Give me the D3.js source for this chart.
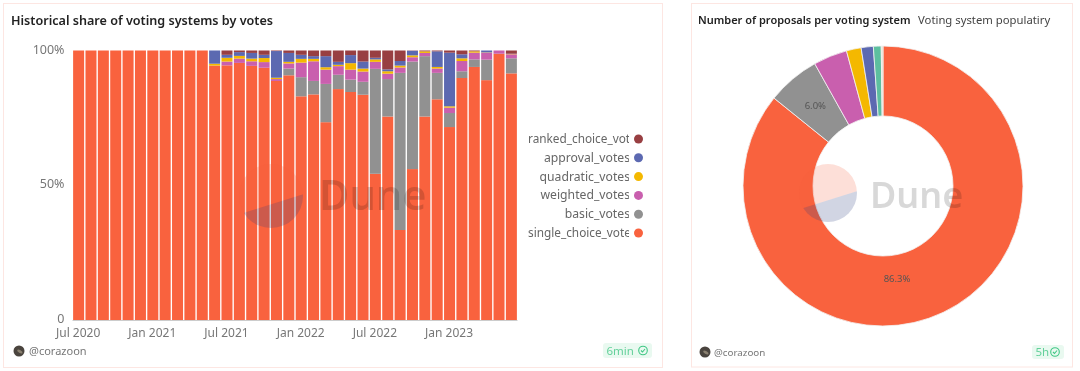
<!DOCTYPE html>
<html>
<head>
<meta charset="utf-8">
<script src="https://cdn.jsdelivr.net/npm/d3@7"></script>
<style>
  html, body { margin: 0; padding: 0; background: #fff; }
  svg { display: block; font-family: "Noto Sans", sans-serif; filter: blur(0.3px); }
</style>
</head>
<body>
<div id="chart"></div>
<script>
var months = [];
d3.timeMonths(new Date(2020, 6, 1), new Date(2023, 6, 1)).forEach(function(m) { months.push(m); });

var seriesNames = ["single_choice_votes", "basic_votes", "weighted_votes", "quadratic_votes", "approval_votes", "ranked_choice_votes"];
var seriesColors = ["#f9623e", "#919191", "#c95fae", "#f4b800", "#5c69b1", "#983f42"];

// percent of votes per month, Jul 2020 .. Jun 2023
var single_choice = [100,100,100,100,100,100,100,100,100,100,100,94.4,94.5,95.4,94.3,93.6,88.7,90.8,83.0,83.8,73.4,85.6,84.6,83.5,54.2,75.5,33.4,56.0,75.5,81.9,71.6,89.8,93.9,89.0,98.8,91.7];
var basic =         [0,0,0,0,0,0,0,0,0,0,0,0,0,0,0,0,0,2.5,7.1,5.0,14.2,5.3,4.6,4.8,38.9,13.9,58.3,39.9,22.4,9.8,5.2,2.5,2.8,7.6,0,5.6];
var weighted =      [0,0,0,0,0,0,0,0,0,0,0,0,1.4,1.6,1.7,2.1,0.7,1.9,5.4,7.3,5.3,3.2,3.7,3.8,2.6,2.0,2.0,1.6,1.2,1.6,2.0,3.8,2.5,2.6,1.2,1.5];
var quadratic =     [0,0,0,0,0,0,0,0,0,0,0,0.7,1.4,1.0,1.0,1.5,0.5,0.6,1.4,0.9,0.9,0.5,2.4,1.1,0.9,0.9,0.7,0.7,0.6,0.6,0.5,1.0,0.5,0.1,0,0.1];
var approval =      [0,0,0,0,0,0,0,0,0,0,0,4.9,1.1,1.4,2.1,1.2,9.9,3.3,1.5,1.0,4.1,1.1,3.0,2.6,0.6,0.7,1.7,1.7,0,5.8,19.9,1.5,0,0.7,0,0.1];
var ranked_choice = [0,0,0,0,0,0,0,0,0,0,0,0,1.6,0.6,0.9,1.6,0.2,0.9,1.6,2.1,2.1,4.2,1.7,4.1,2.7,7.0,3.9,0.1,0.3,0.3,0.8,1.4,0.3,0,0,1.2];

var yTicks = [0, 0.5, 1];
var xTickLabels = ["Jul 2020", "Jan 2021", "Jul 2021", "Jan 2022", "Jul 2022", "Jan 2023"];

var pieNames = ["single_choice", "basic", "weighted", "quadratic", "approval", "other", "ranked_choice"];
var pieValues = [85.8, 6.1, 3.9, 1.7, 1.4, 0.9, 0.2];
var pieLabels = ["86.3%", "6.0%", "", "", "", "", ""];
var pieColors = ["#f9623e", "#919191", "#c95fae", "#f4b800", "#5c69b1", "#5dbf9f", "#e8dcc8"];

var svg = d3.select("#chart").append("svg").attr("width", 1080).attr("height", 371);

// cards
svg.append("rect").attr("x", 3.5).attr("y", 3.5).attr("width", 659).attr("height", 364)
  .attr("fill", "#fff").attr("stroke", "#fde6e2");
svg.append("rect").attr("x", 691.5).attr("y", 3.5).attr("width", 381).attr("height", 363.5)
  .attr("fill", "#fff").attr("stroke", "#fde6e2");

svg.append("text").attr("x", 11).attr("y", 25).attr("font-size", 12.6).attr("font-weight", 600)
  .attr("fill", "#222").text("Historical share of voting systems by votes");
svg.append("text").attr("x", 698).attr("y", 24).attr("font-size", 11).attr("font-weight", 600)
  .attr("fill", "#222").text("Number of proposals per voting system");
svg.append("text").attr("x", 918).attr("y", 24).attr("font-size", 11.3)
  .attr("fill", "#444").text("Voting system populatiry");

// stacked bars
var x = d3.scaleBand().domain(months).range([72.5, 517.5]).paddingInner(0.11).paddingOuter(0.05);
var y = d3.scaleLinear().domain([0, 1]).range([320, 50.5]);

var table = months.map(function(m, i) {
  return {
    month: m,
    single_choice_votes: single_choice[i],
    basic_votes: basic[i],
    weighted_votes: weighted[i],
    quadratic_votes: quadratic[i],
    approval_votes: approval[i],
    ranked_choice_votes: ranked_choice[i]
  };
});
var stacked = d3.stack().keys(seriesNames).offset(d3.stackOffsetExpand)(table);

var g = svg.append("g");
g.selectAll(".layer")
  .data(stacked)
  .enter().append("g")
    .attr("class", "layer")
    .attr("fill", function(d, i) { return seriesColors[i]; })
  .selectAll("rect")
  .data(function(d) { return d; })
  .enter().append("rect")
    .attr("x", function(d) { return x(d.data.month); })
    .attr("y", function(d) { return y(d[1]); })
    .attr("width", x.bandwidth())
    .attr("height", function(d) { return Math.max(0, y(d[0]) - y(d[1])); });

// axes
var fmtMonth = d3.timeFormat("%b %Y");
var xAxis = d3.axisBottom(x)
  .tickValues(months.filter(function(m) { return xTickLabels.indexOf(fmtMonth(m)) >= 0; }))
  .tickFormat(fmtMonth).tickSize(0).tickPadding(8);
var xg = svg.append("g").attr("transform", "translate(-0.5,320)").call(xAxis);
xg.select(".domain").attr("stroke", "#ccc");
xg.selectAll("text").attr("font-family", "Noto Sans").attr("font-size", 12).attr("fill", "#777");

var yAxis = d3.axisLeft(y).tickValues(yTicks).tickSize(0).tickPadding(8)
  .tickFormat(function(d) { return d === 0 ? "0" : d3.format(".0%")(d); });
var yg = svg.append("g").attr("transform", "translate(72.5,-1.5)").call(yAxis);
yg.select(".domain").remove();
yg.selectAll("text").attr("font-family", "Noto Sans").attr("font-size", 12.5).attr("fill", "#777");

// legend, clipped text like the original
svg.append("clipPath").attr("id", "legend-clip").append("rect")
  .attr("x", 520).attr("y", 125).attr("width", 109).attr("height", 120);
var legendNames = seriesNames.slice().reverse();
var legendColors = seriesColors.slice().reverse();
var legendY = d3.scalePoint().domain(legendNames).range([139, 233]);
var legend = svg.append("g");
legend.append("g").attr("clip-path", "url(#legend-clip)").selectAll("text")
  .data(legendNames).enter().append("text")
    .attr("x", function(d) { return d.length > 16 ? 528 : 630; })
    .attr("text-anchor", function(d) { return d.length > 16 ? "start" : "end"; })
    .attr("y", function(d) { return legendY(d) + 4; })
    .attr("font-size", function(d) { return d.length > 16 ? 11.8 : 12.2; }).attr("fill", "#666")
    .text(function(d) { return d; });
legend.selectAll("circle")
  .data(legendNames).enter().append("circle")
    .attr("cx", 638.5).attr("cy", function(d) { return legendY(d); }).attr("r", 4.5)
    .attr("fill", function(d, i) { return legendColors[i]; });

// pie
var pie = d3.pie().sort(null);
var arc = d3.arc().innerRadius(70).outerRadius(140);
var pg = svg.append("g").attr("transform", "translate(883,186)");
pg.selectAll("path")
  .data(pie(pieValues))
  .enter().append("path")
    .attr("d", arc)
    .attr("fill", function(d, i) { return pieColors[i]; })
    .attr("stroke", "#f2f2f2").attr("stroke-width", 0.8);
pg.selectAll("text")
  .data(pie(pieValues).filter(function(d) { return pieLabels[d.index] !== ""; }))
  .enter().append("text")
    .attr("transform", function(d) {
      // the big slice label sits near the bottom in the original, not at the centroid
      if (d.index === 0) return "translate(14,93)";
      return "translate(" + arc.centroid(d) + ")";
    })
    .attr("text-anchor", "middle").attr("dy", "0.35em")
    .attr("font-size", 9.5).attr("fill", "#555")
    .text(function(d) { return pieLabels[d.index]; });

// Dune watermark
function watermark(cx, cy, r, off, tx, ty, fs) {
  var wm = svg.append("g").attr("transform", "translate(" + cx + "," + cy + ")");
  wm.append("clipPath").attr("id", "wm-top" + cx).append("rect")
    .attr("x", -r * 2).attr("y", -r * 2).attr("width", r * 4).attr("height", r * 2 + off)
    .attr("transform", "rotate(-17.5)");
  wm.append("clipPath").attr("id", "wm-bot" + cx).append("rect")
    .attr("x", -r * 2).attr("y", off).attr("width", r * 4).attr("height", r * 2)
    .attr("transform", "rotate(-17.5)");
  wm.append("circle").attr("r", r).attr("fill", "#f4603e").attr("opacity", 0.2)
    .attr("clip-path", "url(#wm-top" + cx + ")");
  wm.append("circle").attr("r", r).attr("fill", "#2c3e80").attr("opacity", 0.22)
    .attr("clip-path", "url(#wm-bot" + cx + ")");
  svg.append("text").attr("x", tx).attr("y", ty).attr("font-size", fs).attr("font-weight", 600)
    .attr("fill", "#000").attr("opacity", 0.15).text("Dune");
}
watermark(271, 196, 32, 8, 319, 210, 41.5);
watermark(828, 193, 29, 7, 870, 208, 36);

// footer
function footer(ax, ay, tx, ty, fs) {
  svg.append("circle").attr("cx", ax).attr("cy", ay).attr("r", 5.5).attr("fill", "#4a443e");
  svg.append("ellipse").attr("cx", ax + 1).attr("cy", ay).attr("rx", 3).attr("ry", 1.4)
    .attr("transform", "rotate(30," + ax + "," + ay + ")").attr("fill", "#8a8070");
  svg.append("text").attr("x", tx).attr("y", ty).attr("font-size", fs).attr("fill", "#777").text("@corazoon");
}
footer(19, 351, 29, 355, 11);
footer(705, 352, 714, 355.5, 9.8);

function badge(bx, by, w, h, label, fs) {
  svg.append("rect").attr("x", bx).attr("y", by).attr("width", w).attr("height", h).attr("rx", 3).attr("fill", "#e9f9f0");
  svg.append("text").attr("x", bx + 3.5).attr("y", by + h - 3.5).attr("font-size", fs).attr("fill", "#63d09a").text(label);
  var cx = bx + w - 9, cy = by + h / 2;
  svg.append("circle").attr("cx", cx).attr("cy", cy).attr("r", 4.3).attr("fill", "none").attr("stroke", "#3fc784").attr("stroke-width", 1.1);
  svg.append("path").attr("d", d3.line()([[cx - 2, cy], [cx - 0.5, cy + 1.5], [cx + 2, cy - 1.5]]))
    .attr("fill", "none").attr("stroke", "#3fc784").attr("stroke-width", 1.1);
}
badge(603, 343, 49, 15, "6min", 11.5);
badge(1032, 345, 32, 14, "5h", 11.5);
</script>
</body>
</html>
